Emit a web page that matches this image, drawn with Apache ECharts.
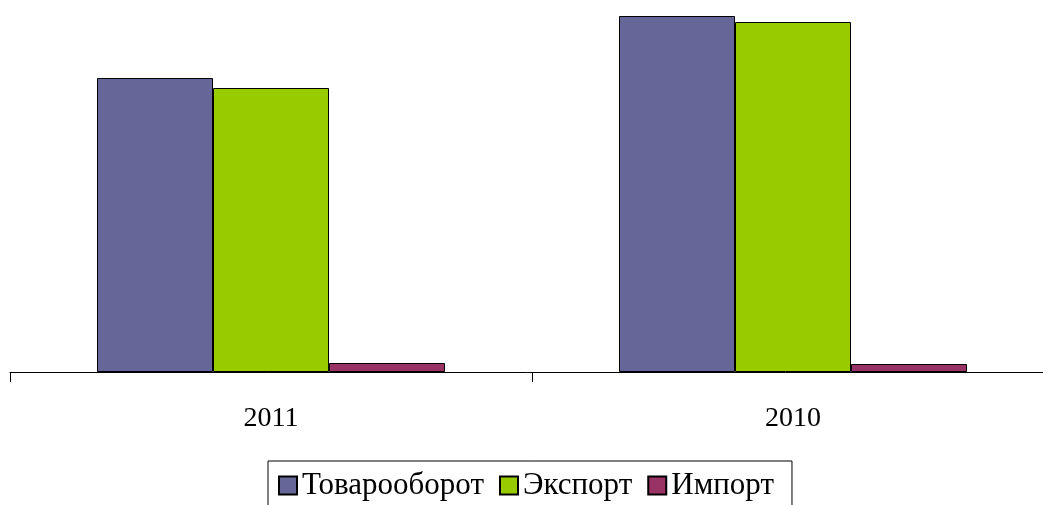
<!DOCTYPE html>
<html><head><meta charset="utf-8">
<script src="https://cdn.jsdelivr.net/npm/echarts@6/dist/echarts.min.js"></script>
<style>html,body{margin:0;padding:0;background:#fff}#c{width:1043px;height:505px}</style>
</head><body><div id="c"></div>
<script>
const categories = ['2011', '2010'];
const turnover = [294, 356];
const exportVals = [284, 350];
const importVals = [9, 8];
const seriesNames = ['Товарооборот', 'Экспорт', 'Импорт'];
const colors = ['#666699', '#99CC00', '#993366'];

const chart = echarts.init(document.getElementById('c'));
const font = 'Liberation Serif, Times New Roman, serif';
const mk = (name, data, color) => ({
  name, type: 'bar', data, barWidth: 116, barGap: '0%',
  itemStyle: { color, borderColor: '#000', borderWidth: 1 }
});
chart.setOption({
  animation: false,
  grid: { left: 10, top: 0, width: 1044, height: 372, outerBoundsMode: 'none', containLabel: false },
  xAxis: {
    type: 'category', data: categories,
    axisLine: { lineStyle: { color: '#000', width: 1 } },
    axisTick: { show: true, length: 10, lineStyle: { color: '#000' } },
    axisLabel: { color: '#000', fontFamily: font, fontSize: 28, margin: 33 }
  },
  yAxis: { type: 'value', min: 0, max: 372, show: false, splitLine: { show: false } },
  legend: {
    top: 461, left: 268, itemWidth: 18, itemHeight: 18, itemGap: 15,
    borderColor: '#000', borderWidth: 1, padding: [9, 18, 14, 10],
    icon: 'rect',
    textStyle: { color: '#000', fontFamily: font, fontSize: 31 },
    data: seriesNames
  },
  series: [
    mk(seriesNames[0], turnover, colors[0]),
    mk(seriesNames[1], exportVals, colors[1]),
    mk(seriesNames[2], importVals, colors[2])
  ]
});
</script></body></html>
